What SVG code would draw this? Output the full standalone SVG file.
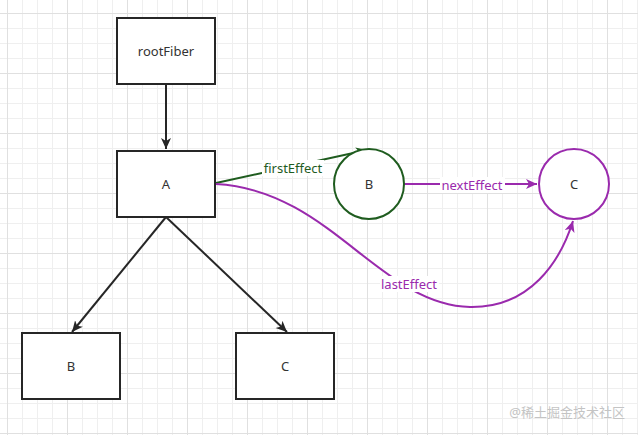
<svg xmlns="http://www.w3.org/2000/svg" width="638" height="435" viewBox="0 0 638 435">
<defs>
<pattern id="grid" patternUnits="userSpaceOnUse" x="7" y="13" width="60" height="60">
<path d="M15.5,0V60M30.5,0V60M45.5,0V60M0,15.5H60M0,30.5H60M0,45.5H60" stroke="#efefef" stroke-width="1" fill="none"/>
<path d="M0.5,0V60M0,0.5H60" stroke="#e0e0e0" stroke-width="1" fill="none"/>
</pattern>
<marker id="ak" markerUnits="userSpaceOnUse" markerWidth="14" markerHeight="12" refX="11" refY="5" orient="auto" viewBox="0 0 14 12"><path d="M0,0 L11,5 L0,10 L3,5 z" fill="#262626"/></marker>
<marker id="ag" markerUnits="userSpaceOnUse" markerWidth="14" markerHeight="12" refX="11" refY="5" orient="auto" viewBox="0 0 14 12"><path d="M0,0 L11,5 L0,10 L3,5 z" fill="#1f5c1f"/></marker>
<marker id="ap" markerUnits="userSpaceOnUse" markerWidth="14" markerHeight="12" refX="11" refY="5" orient="auto" viewBox="0 0 14 12"><path d="M0,0 L11,5 L0,10 L3,5 z" fill="#9a2aad"/></marker>
</defs>
<style>
.box{fill:#fff;stroke:#262626;stroke-width:2}
.t{font-family:"Noto Sans","Liberation Sans",sans-serif;font-size:13px;fill:#333;text-anchor:middle;dominant-baseline:central}
.lk{fill:none;stroke:#262626;stroke-width:2}
.lg{fill:none;stroke:#1f5c1f;stroke-width:2}
.lp{fill:none;stroke:#9a2aad;stroke-width:2}
.lbl{font-family:"Noto Sans","Liberation Sans",sans-serif;font-size:13px;text-anchor:middle;dominant-baseline:central}
</style>
<rect width="638" height="435" fill="#fff"/>
<rect width="638" height="435" fill="url(#grid)"/>
<g id="connectors">
<path class="lk" d="M166,84 L166,149" marker-end="url(#ak)"/>
<path class="lk" d="M166,217 L72,332" marker-end="url(#ak)"/>
<path class="lk" d="M166,217 L287,332" marker-end="url(#ak)"/>
<path class="lg" d="M216,183 L367,150" marker-end="url(#ag)"/>
<rect x="262" y="160" width="62" height="16" fill="#fff"/>
<text class="lbl" x="293" y="168" fill="#1f5c1f">firstEffect</text>
<path class="lp" d="M404,184 L537,184" marker-end="url(#ap)"/>
<rect x="440" y="177" width="65" height="16" fill="#fff"/>
<text class="lbl" x="472" y="185" fill="#9a2aad">nextEffect</text>
<path class="lp" d="M216,184 C330,190 380,305 470,307 C530,308 560,262 573,221" marker-end="url(#ap)"/>
<rect x="380" y="276" width="59" height="16" fill="#fff"/>
<text class="lbl" x="409" y="284" fill="#9a2aad">lastEffect</text>
</g>
<g id="rootFiber"><rect class="box" x="117" y="18" width="98" height="66"/><text class="t" x="166" y="51">rootFiber</text></g>
<g id="A"><rect class="box" x="117" y="151" width="98" height="66"/><text class="t" x="166" y="184">A</text></g>
<g id="B"><rect class="box" x="22" y="333" width="98" height="66"/><text class="t" x="71" y="366">B</text></g>
<g id="C"><rect class="box" x="236" y="333" width="98" height="66"/><text class="t" x="285" y="366">C</text></g>
<g id="B-effect"><circle cx="369" cy="184" r="35" fill="#fff" stroke="#1f5c1f" stroke-width="2"/><text class="t" x="369" y="184">B</text></g>
<g id="C-effect"><circle cx="574" cy="184" r="35" fill="#fff" stroke="#9a2aad" stroke-width="2"/><text class="t" x="574" y="184" fill="#9a2aad">C</text></g>
<text x="625" y="412" font-family="'Noto Sans','Noto Sans CJK SC',sans-serif" font-size="13" fill="#c4c4c4" text-anchor="end" dominant-baseline="central">@稀土掘金技术社区</text>
</svg>
